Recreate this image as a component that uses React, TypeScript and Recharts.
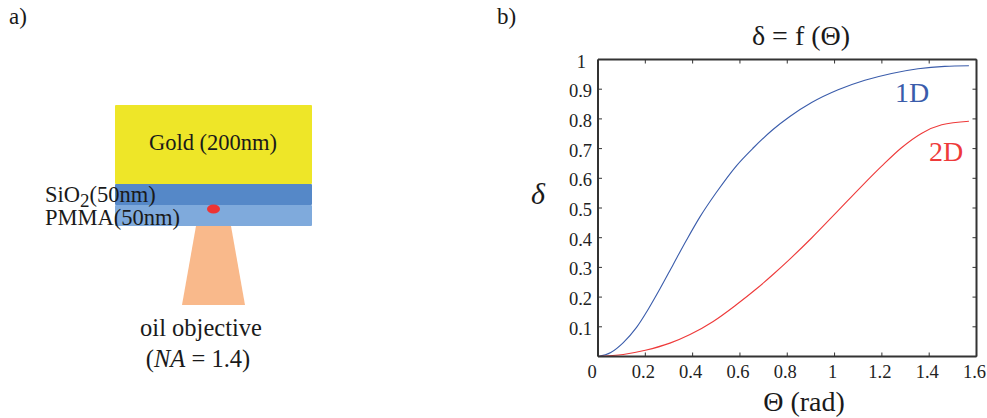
import { LineChart, Line, XAxis, YAxis } from 'recharts'

const theta1D = [0, 0.054, 0.107, 0.163, 0.213, 0.262, 0.318, 0.375, 0.431, 0.5, 0.586, 0.656, 0.741, 0.811, 0.903, 1.015, 1.128, 1.241, 1.353, 1.466, 1.568]
const delta1D = [0, 0.0135, 0.047, 0.098, 0.16, 0.228, 0.31, 0.393, 0.47, 0.552, 0.643, 0.702, 0.765, 0.808, 0.855, 0.898, 0.93, 0.953, 0.969, 0.977, 0.979]

const theta2D = [0, 0.107, 0.2, 0.304, 0.389, 0.487, 0.586, 0.67, 0.741, 0.811, 0.903, 1.015, 1.114, 1.198, 1.283, 1.369, 1.453, 1.568]
const delta2D = [0, 0.007, 0.021, 0.045, 0.074, 0.118, 0.175, 0.228, 0.277, 0.328, 0.399, 0.491, 0.573, 0.64, 0.703, 0.752, 0.78, 0.792]

const xTicks = [0, 0.2, 0.4, 0.6, 0.8, 1, 1.2, 1.4, 1.6]
const yTicks = [0, 0.1, 0.2, 0.3, 0.4, 0.5, 0.6, 0.7, 0.8, 0.9, 1]

const data1D = theta1D.map((t, i) => ({ theta: t, delta: delta1D[i] }))
const data2D = theta2D.map((t, i) => ({ theta: t, delta: delta2D[i] }))

const SERIF = '"Liberation Serif", serif'
const AXIS_COLOR = '#333333'
const TICK_LEN = 4

// bottom axis: inward tick plus label below
const BottomTick = ({ x, y, payload }: any) => {
  const v = payload.value
  const dx = v === 0 ? -6 : -2
  return (
    <g>
      <line x1={x} y1={y} x2={x} y2={y - TICK_LEN} stroke={AXIS_COLOR} strokeWidth={1} />
      <text x={x + dx} y={y + 21} textAnchor="middle" fontFamily={SERIF} fontSize={18.5} fill="#222">{v}</text>
    </g>
  )
}

const LeftTick = ({ x, y, payload }: any) => {
  const v = payload.value
  if (v === 0) return <g />
  return (
    <g>
      <line x1={x} y1={y} x2={x + TICK_LEN} y2={y} stroke={AXIS_COLOR} strokeWidth={1} />
      <text x={v === 1 ? x - 12 : x - 6} y={y + 8} textAnchor="end" fontFamily={SERIF} fontSize={18.5} fill="#222">{v}</text>
    </g>
  )
}

const TopTick = ({ x, y }: any) => <line x1={x} y1={y} x2={x} y2={y + TICK_LEN} stroke={AXIS_COLOR} strokeWidth={1} />
const RightTick = ({ x, y }: any) => <line x1={x} y1={y} x2={x - TICK_LEN} y2={y} stroke={AXIS_COLOR} strokeWidth={1} />

const Schematic = () => (
  <svg width={987} height={418} style={{ position: 'absolute', left: 0, top: 0 }} fontFamily={SERIF} fill="#1a1a1a">
    <text x={9} y={24} fontSize={23}>a)</text>
    <text x={497} y={24} fontSize={23}>b)</text>

    <rect x={115} y={105} width={197} height={79} rx={1} fill="#eee628" />
    <rect x={115} y={184} width={197} height={21} rx={1} fill="#5588c8" />
    <rect x={115} y={205} width={197} height={21} rx={1} fill="#7faadc" />
    <polygon points="196,226 231,226 245,305 182,305" fill="#f9b98b" />
    <ellipse cx={213.5} cy={209} rx={6.5} ry={4.5} fill="#ee3333" />

    <text x={213} y={150} fontSize={22.5} textAnchor="middle">Gold (200nm)</text>
    <text x={45} y={202} fontSize={22.5}>SiO<tspan fontSize={19} dy={5}>2</tspan><tspan dy={-5}>(50nm)</tspan></text>
    <text x={45} y={225} fontSize={22.5}>PMMA(50nm)</text>
    <text x={201} y={336} fontSize={24.5} textAnchor="middle">oil objective</text>
    <text x={198} y={367} fontSize={24.5} textAnchor="middle">(<tspan fontStyle="italic">NA</tspan> = 1.4)</text>

    <text x={801} y={45} fontSize={28} textAnchor="middle">δ = f (Θ)</text>
    <text x={804} y={411} fontSize={28} textAnchor="middle">Θ (rad)</text>
    <text x={538} y={204} fontSize={30} fontStyle="italic" textAnchor="middle">δ</text>
    <text x={912} y={102} fontSize={28} textAnchor="middle" fill="#3a5cab">1D</text>
    <text x={946} y={161} fontSize={28} textAnchor="middle" fill="#ee3a3a">2D</text>
  </svg>
)

export default function App() {
  return (
    <div style={{ position: 'absolute', left: 0, top: 0, width: 987, height: 418, background: '#fff' }}>
      <Schematic />
      <div style={{ position: 'absolute', left: 0, top: 0 }}>
        <LineChart width={987} height={418} margin={{ top: 58.5, right: 9.5, bottom: 60.5, left: 597 }}>
          <XAxis xAxisId="b" dataKey="theta" type="number" domain={[0, 1.6]} ticks={xTicks} interval={0} height={1} allowDuplicatedCategory={false}
            axisLine={{ stroke: AXIS_COLOR, strokeWidth: 2 }} tickLine={false} tickSize={0} tickMargin={0} tick={<BottomTick />} />
          <XAxis xAxisId="t" orientation="top" dataKey="theta" type="number" domain={[0, 1.6]} ticks={xTicks} interval={0} height={1} allowDuplicatedCategory={false}
            axisLine={{ stroke: AXIS_COLOR, strokeWidth: 2 }} tickLine={false} tickSize={0} tickMargin={0} tick={<TopTick />} />
          <YAxis yAxisId="l" type="number" domain={[0, 1]} ticks={yTicks} interval={0} width={1}
            axisLine={{ stroke: AXIS_COLOR, strokeWidth: 2 }} tickLine={false} tickSize={0} tickMargin={0} tick={<LeftTick />} />
          <YAxis yAxisId="r" orientation="right" type="number" domain={[0, 1]} ticks={yTicks} interval={0} width={1}
            axisLine={{ stroke: AXIS_COLOR, strokeWidth: 2 }} tickLine={false} tickSize={0} tickMargin={0} tick={<RightTick />} />
          {/* invisible series so the top and right axes get their ticks */}
          <Line xAxisId="t" yAxisId="r" data={data1D} dataKey="delta" stroke="none" dot={false} isAnimationActive={false} />
          <Line xAxisId="b" yAxisId="l" data={data1D} dataKey="delta" name="1D" type="monotone" stroke="#3a5cab" strokeWidth={1.1} dot={false} isAnimationActive={false} />
          <Line xAxisId="b" yAxisId="l" data={data2D} dataKey="delta" name="2D" type="monotone" stroke="#ee3a3a" strokeWidth={1.1} dot={false} isAnimationActive={false} />
        </LineChart>
      </div>
    </div>
  )
}
